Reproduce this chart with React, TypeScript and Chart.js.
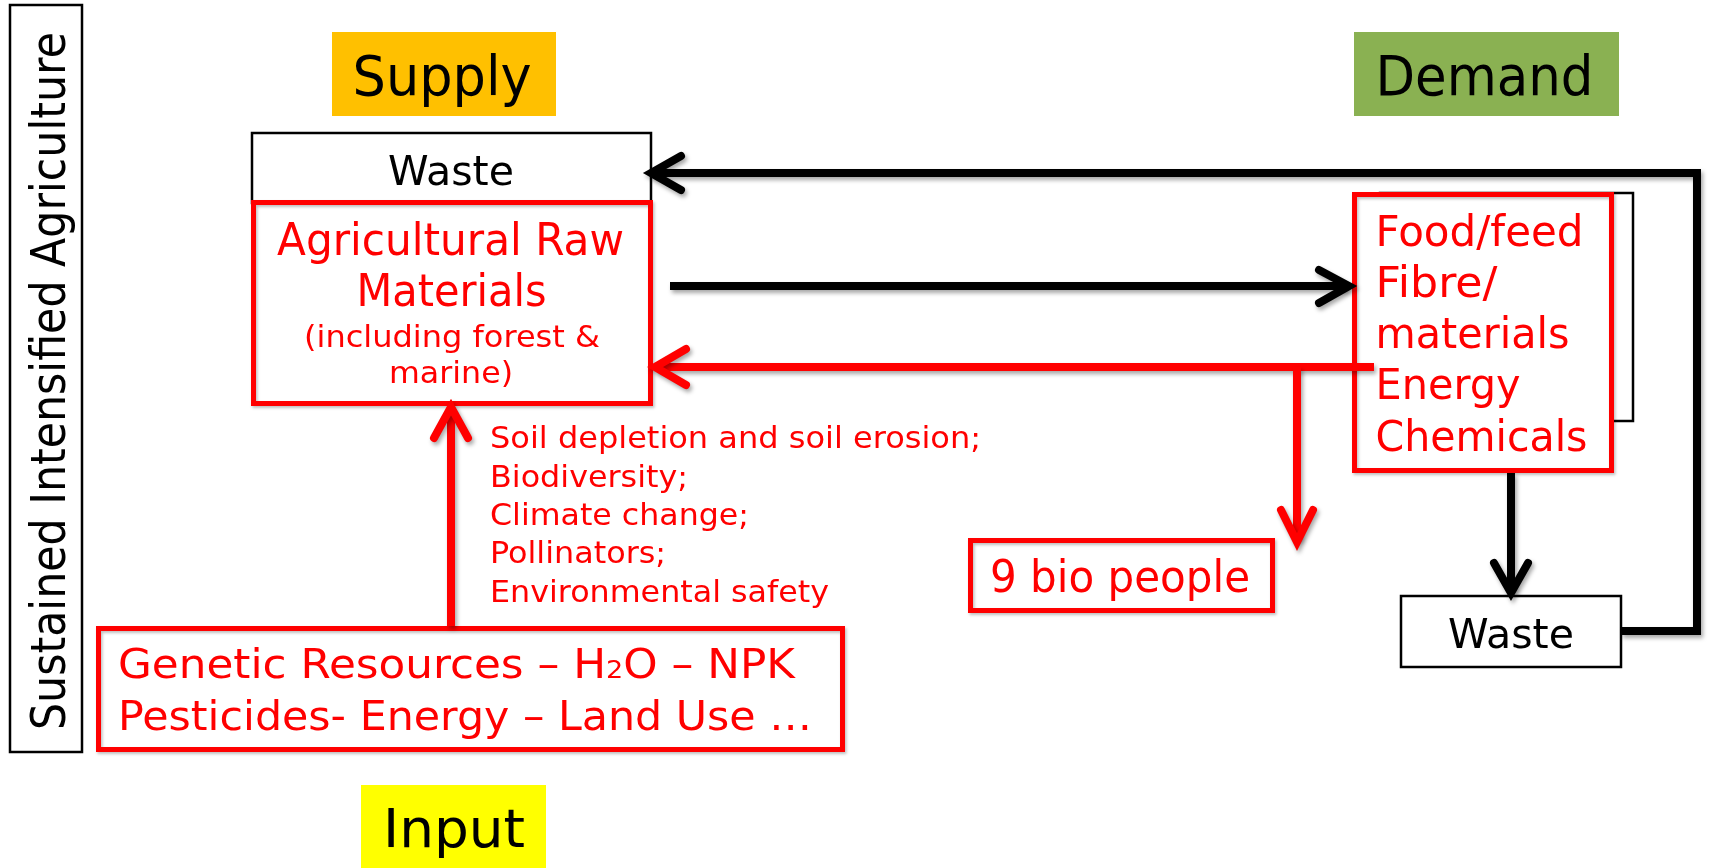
import React, { useEffect, useRef } from "react";
import { Chart, registerables } from "chart.js";

Chart.register(...registerables);

// ---- Text content ----
const sideTitle = "Sustained Intensified Agriculture";
const stageLabels = ["Supply", "Demand", "Input"];
const wasteLabel = "Waste";
const rawMaterialLines = ["Agricultural Raw", "Materials", "(including forest &", "marine)"];
const productLines = ["Food/feed", "Fibre/", "materials", "Energy", "Chemicals"];
const impactLines = [
  "Soil depletion and soil erosion;",
  "Biodiversity;",
  "Climate change;",
  "Pollinators;",
  "Environmental safety",
];
const inputLine1 = ["Genetic Resources – H", "2", "O – NPK"];
const inputLine2 = ["Pesticides- Energy – Land Use …"];
const populationLabel = "9 bio people";

// ---- Diagram geometry (in the 1710 x 868 value space of the scales) ----
const W = 1710;
const H = 868;
const FONT = '"DejaVu Sans", Verdana, sans-serif';
const RED = "#FF0000";
const BLACK = "#000000";

type Box = { x0: number; y0: number; x1: number; y1: number; stroke?: string; lw?: number; fill?: string };

const fills: Box[] = [
  { x0: 332, y0: 32, x1: 556, y1: 116, fill: "#FFC000" },
  { x0: 1354, y0: 32, x1: 1619, y1: 116, fill: "#8AB152" },
  { x0: 361, y0: 785, x1: 546, y1: 868, fill: "#FFFF00" },
];

const frames: Box[] = [
  { x0: 10, y0: 5, x1: 82, y1: 752, stroke: BLACK, lw: 2.5 },
  { x0: 252, y0: 133, x1: 651, y1: 203, stroke: BLACK, lw: 2.5, fill: "#fff" },
  { x0: 1380, y0: 193, x1: 1633, y1: 421, stroke: BLACK, lw: 2.5, fill: "#fff" },
  { x0: 1401, y0: 596, x1: 1621, y1: 667, stroke: BLACK, lw: 2.5, fill: "#fff" },
  { x0: 253.5, y0: 202.5, x1: 650.5, y1: 403.5, stroke: RED, lw: 5, fill: "#fff" },
  { x0: 1354.5, y0: 194.5, x1: 1611.5, y1: 470.5, stroke: RED, lw: 5, fill: "#fff" },
  { x0: 970.5, y0: 540.5, x1: 1272.5, y1: 610.5, stroke: RED, lw: 5, fill: "#fff" },
  { x0: 98.5, y0: 628.5, x1: 842.5, y1: 749.5, stroke: RED, lw: 5, fill: "#fff" },
];

type Arrow = { pts: number[][]; head?: number[][]; color: string; lw: number };

const arrows: Arrow[] = [
  // waste loop back to supply waste
  { pts: [[1621, 631], [1697, 631], [1697, 173], [653, 173]], head: [[681, 156], [651, 173], [681, 190]], color: BLACK, lw: 8 },
  // raw materials -> demand
  { pts: [[670, 286], [1347, 286]], head: [[1319, 270], [1349, 286], [1319, 303]], color: BLACK, lw: 8 },
  // demand -> waste
  { pts: [[1511, 473], [1511, 591]], head: [[1494, 563], [1511, 593], [1528, 563]], color: BLACK, lw: 8 },
  // demand -> raw materials (red)
  { pts: [[1374, 367], [657, 367]], head: [[686, 349], [655, 367], [686, 385]], color: RED, lw: 8 },
  // to population
  { pts: [[1297, 367], [1297, 540]], head: [[1281, 510], [1297, 542], [1313, 510]], color: RED, lw: 8 },
  // inputs -> raw materials
  { pts: [[451, 626], [451, 409]], head: [[434, 438], [451, 407], [468, 438]], color: RED, lw: 8 },
];

type TextItem = { segs: string[]; x: number; base: number; size: number; width: number; color: string; sub?: number };

const texts: TextItem[] = [
  { segs: [stageLabels[0]], x: 352.6, base: 95, size: 55, width: 179, color: BLACK },
  { segs: [stageLabels[1]], x: 1375.5, base: 95, size: 55, width: 218, color: BLACK },
  { segs: [stageLabels[2]], x: 383, base: 847, size: 53, width: 142, color: BLACK },
  { segs: [wasteLabel], x: 388, base: 185, size: 41, width: 126, color: BLACK },
  { segs: [wasteLabel], x: 1448, base: 648, size: 41, width: 126, color: BLACK },
  { segs: [rawMaterialLines[0]], x: 277, base: 255, size: 44, width: 347, color: RED },
  { segs: [rawMaterialLines[1]], x: 356.5, base: 306, size: 44, width: 190, color: RED },
  { segs: [rawMaterialLines[2]], x: 304, base: 347, size: 30, width: 296, color: RED },
  { segs: [rawMaterialLines[3]], x: 389, base: 383, size: 30, width: 124, color: RED },
  { segs: [productLines[0]], x: 1375.5, base: 246, size: 42, width: 208, color: RED },
  { segs: [productLines[1]], x: 1375.5, base: 297, size: 42, width: 122, color: RED },
  { segs: [productLines[2]], x: 1375.5, base: 348, size: 42, width: 194, color: RED },
  { segs: [productLines[3]], x: 1375.5, base: 399, size: 42, width: 145, color: RED },
  { segs: [productLines[4]], x: 1375.5, base: 451, size: 42, width: 212, color: RED },
  { segs: [impactLines[0]], x: 490, base: 448, size: 30, width: 491, color: RED },
  { segs: [impactLines[1]], x: 490, base: 487, size: 30, width: 198, color: RED },
  { segs: [impactLines[2]], x: 490, base: 525, size: 30, width: 259, color: RED },
  { segs: [impactLines[3]], x: 490, base: 563, size: 30, width: 176, color: RED },
  { segs: [impactLines[4]], x: 490, base: 602, size: 30, width: 339, color: RED },
  { segs: inputLine1, x: 118, base: 678, size: 41, width: 677, color: RED, sub: 1 },
  { segs: inputLine2, x: 118, base: 730, size: 41, width: 694, color: RED },
  { segs: [populationLabel], x: 990, base: 592, size: 44, width: 260, color: RED },
];

const diagramPlugin = {
  id: "diagram",
  afterDraw(chart: any) {
    const ctx: CanvasRenderingContext2D = chart.ctx;
    const xs = chart.scales.x;
    const ys = chart.scales.y;
    const px = (v: number) => xs.getPixelForValue(v);
    const py = (v: number) => ys.getPixelForValue(v);

    ctx.save();
    ctx.fillStyle = "#fff";
    ctx.fillRect(px(0), py(0), px(W) - px(0), py(H) - py(0));

    for (const b of fills) {
      ctx.fillStyle = b.fill!;
      ctx.fillRect(px(b.x0), py(b.y0), px(b.x1) - px(b.x0), py(b.y1) - py(b.y0));
    }

    for (const b of frames) {
      const x = px(b.x0), y = py(b.y0), w = px(b.x1) - px(b.x0), h = py(b.y1) - py(b.y0);
      if (b.fill) {
        ctx.fillStyle = b.fill;
        ctx.fillRect(x, y, w, h);
      }
      ctx.save();
      if (b.stroke === RED) {
        ctx.shadowColor = "rgba(0,0,0,0.25)";
        ctx.shadowBlur = 3;
        ctx.shadowOffsetX = 1.5;
        ctx.shadowOffsetY = 2;
      }
      ctx.strokeStyle = b.stroke!;
      ctx.lineWidth = b.lw!;
      ctx.lineJoin = "miter";
      ctx.strokeRect(x, y, w, h);
      ctx.restore();
    }

    // side title (rotated)
    ctx.save();
    ctx.translate(px(65), py(381));
    ctx.rotate(-Math.PI / 2);
    ctx.font = `48px ${FONT}`;
    const tw = ctx.measureText(sideTitle).width;
    ctx.scale(698 / tw, 1);
    ctx.fillStyle = BLACK;
    ctx.textBaseline = "alphabetic";
    ctx.textAlign = "center";
    ctx.fillText(sideTitle, 0, 0);
    ctx.restore();

    // arrows
    for (const a of arrows) {
      ctx.save();
      ctx.shadowColor = "rgba(0,0,0,0.35)";
      ctx.shadowBlur = 4;
      ctx.shadowOffsetX = 2;
      ctx.shadowOffsetY = 3;
      ctx.strokeStyle = a.color;
      ctx.lineWidth = a.lw;
      ctx.lineJoin = "miter";
      ctx.lineCap = "butt";
      ctx.beginPath();
      a.pts.forEach((p, i) => (i === 0 ? ctx.moveTo(px(p[0]), py(p[1])) : ctx.lineTo(px(p[0]), py(p[1]))));
      ctx.stroke();
      if (a.head) {
        ctx.lineCap = "round";
        ctx.beginPath();
        a.head.forEach((p, i) => (i === 0 ? ctx.moveTo(px(p[0]), py(p[1])) : ctx.lineTo(px(p[0]), py(p[1]))));
        ctx.stroke();
      }
      ctx.restore();
    }

    // texts
    ctx.textAlign = "left";
    ctx.textBaseline = "alphabetic";
    for (const t of texts) {
      const sizes = t.segs.map((_, i) => (t.sub === i ? t.size * 0.62 : t.size));
      const widths = t.segs.map((s, i) => {
        ctx.font = `${sizes[i]}px ${FONT}`;
        return ctx.measureText(s).width;
      });
      const total = widths.reduce((a, b) => a + b, 0);
      const sx = t.width / total;
      ctx.save();
      ctx.translate(px(t.x), py(t.base));
      ctx.scale(sx, 1);
      ctx.fillStyle = t.color;
      let cx = 0;
      t.segs.forEach((s, i) => {
        ctx.font = `${sizes[i]}px ${FONT}`;
        ctx.fillText(s, cx, 0);
        cx += widths[i];
      });
      ctx.restore();
    }
    ctx.restore();
  },
};

export default function App() {
  const ref = useRef<HTMLCanvasElement | null>(null);
  useEffect(() => {
    document.body.style.margin = "0";
    if (!ref.current) return;
    const chart = new Chart(ref.current, {
      type: "scatter",
      data: { datasets: [{ data: [], pointRadius: 0 }] },
      options: {
        animation: false,
        responsive: false,
        maintainAspectRatio: false,
        layout: { padding: 0 },
        plugins: { legend: { display: false }, tooltip: { enabled: false } },
        scales: {
          x: { type: "linear", min: 0, max: W, display: false },
          y: { type: "linear", min: 0, max: H, reverse: true, display: false },
        },
      },
      plugins: [diagramPlugin],
    });
    return () => chart.destroy();
  }, []);
  return (
    <div style={{ width: W, height: H }}>
      <canvas ref={ref} width={W} height={H} style={{ display: "block" }} />
    </div>
  );
}
